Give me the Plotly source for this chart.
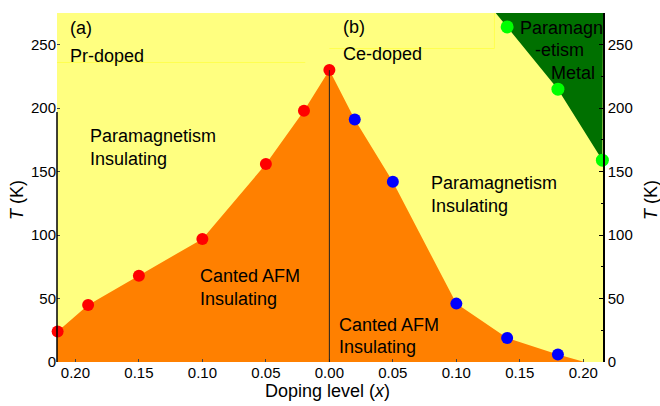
import plotly.graph_objects as go

# ---- data ----
pr_x = [0.214, 0.19, 0.15, 0.10, 0.05, 0.02, 0.00]
pr_T = [24, 45, 68, 97, 156, 198, 230]
ce_x = [0.02, 0.05, 0.10, 0.14, 0.18]
ce_T = [191, 142, 46, 19, 6]
pm_x = [0.14, 0.18, 0.215]
pm_T = [264, 215, 159]
# boundaries of the shaded regions
afm_end_x = 0.201
metal_top_x = 0.131
x_ticks = [-0.20, -0.15, -0.10, -0.05, 0.0, 0.05, 0.10, 0.15, 0.20]
x_ticktext = ["0.20", "0.15", "0.10", "0.05", "0.00", "0.05", "0.10", "0.15", "0.20"]
y_ticks = [0, 50, 100, 150, 200, 250]

XMIN, XMAX = -0.2145, 0.2155
YMAX = 275

YELLOW = "#FFFF80"
ORANGE = "#FF8000"
DGREEN = "#007000"
FAINT = "#FFFF50"
FONT = "Liberation Sans, Arial, sans-serif"

pr_xs = [-v for v in pr_x]

fig = go.Figure()

# Canted AFM region (orange)
afm_x = [XMIN, XMIN] + pr_xs + ce_x + [afm_end_x, XMIN]
afm_y = [0, pr_T[0]] + pr_T + ce_T + [0, 0]
fig.add_trace(go.Scatter(x=afm_x, y=afm_y, fill="toself", fillcolor=ORANGE,
                         mode="lines", line=dict(width=0, color=ORANGE),
                         hoverinfo="skip", showlegend=False))

# Paramagnetic metal region (dark green)
met_x = [metal_top_x] + pm_x + [XMAX, metal_top_x]
met_y = [YMAX] + pm_T + [YMAX, YMAX]
fig.add_trace(go.Scatter(x=met_x, y=met_y, fill="toself", fillcolor=DGREEN,
                         mode="lines", line=dict(width=0, color=DGREEN),
                         hoverinfo="skip", showlegend=False))

# points
fig.add_trace(go.Scatter(x=pr_xs, y=pr_T, mode="markers", cliponaxis=False,
                         marker=dict(color="#FF0000", size=12), showlegend=False))
fig.add_trace(go.Scatter(x=ce_x, y=ce_T, mode="markers", cliponaxis=False,
                         marker=dict(color="#0000FF", size=12), showlegend=False))
fig.add_trace(go.Scatter(x=pm_x, y=pm_T, mode="markers", cliponaxis=False,
                         marker=dict(color="#00FF00", size=13), showlegend=False,
                         yaxis="y2"))

# vertical separator at x=0
fig.add_shape(type="line", x0=0, x1=0, y0=0, y1=pr_T[-1], xref="x", yref="y",
              line=dict(color="#202020", width=1), layer="above")
# left frame line (partial, as in original)
fig.add_shape(type="line", x0=0, x1=0, y0=0, y1=197, xref="paper", yref="y",
              line=dict(color="black", width=1.5), layer="above")
# faint text-box edges
fig.add_shape(type="line", x0=XMIN, x1=-0.019, y0=236, y1=236, xref="x", yref="y",
              line=dict(color=FAINT, width=1), layer="below")
fig.add_shape(type="line", x0=0.0, x1=0.130, y0=247, y1=247, xref="x", yref="y",
              line=dict(color=FAINT, width=1), layer="below")
fig.add_shape(type="line", x0=0.130, x1=0.130, y0=247, y1=YMAX, xref="x", yref="y",
              line=dict(color=FAINT, width=1), layer="below")


def ann(x, y, text, xanchor="left", size=18):
    fig.add_annotation(x=x, y=y, xref="x", yref="y", text=text, showarrow=False,
                       xanchor=xanchor, yanchor="middle", align="left",
                       font=dict(family=FONT, size=size, color="black"))


ann(-0.2058, 263, "(a)")
ann(-0.2058, 241, "Pr-doped")
ann(-0.1901, 178, "Paramagnetism")
ann(-0.1901, 160, "Insulating")
ann(-0.1035, 68, "Canted AFM")
ann(-0.1035, 50, "Insulating")
ann(0.0091, 264, "(b)")
ann(0.0091, 243, "Ce-doped")
ann(0.0784, 141, "Paramagnetism")
ann(0.0784, 123, "Insulating")
ann(0.0060, 29, "Canted AFM")
ann(0.0060, 12, "Insulating")
ann(0.1831, 263, "Paramagn", xanchor="center")
ann(0.1816, 246, "-etism", xanchor="center")
ann(0.1918, 228, "Metal", xanchor="center")

# axis titles
title_font = dict(family=FONT, size=18, color="black")
fig.add_annotation(x=(17 - 57) / 546, y=(362 - 200) / 349, xref="paper", yref="paper",
                   text="<i>T</i> (K)", textangle=-90, showarrow=False,
                   xanchor="center", yanchor="middle", font=title_font)
fig.add_annotation(x=(651 - 57) / 546, y=(362 - 200) / 349, xref="paper", yref="paper",
                   text="<i>T</i> (K)", textangle=-90, showarrow=False,
                   xanchor="center", yanchor="middle", font=title_font)
fig.add_annotation(x=(327 - 57) / 546, y=-(391 - 362) / 349, xref="paper", yref="paper",
                   text="Doping level (<i>x</i>)", showarrow=False,
                   xanchor="center", yanchor="middle", font=title_font)

axis_font = dict(family=FONT, size=15, color="black")
fig.update_layout(
    width=660, height=406,
    margin=dict(l=57, r=57, t=13, b=44),
    paper_bgcolor="white", plot_bgcolor=YELLOW,
    font=dict(family=FONT, color="black"),
    xaxis=dict(range=[XMIN, XMAX], tickvals=x_ticks, ticktext=x_ticktext,
               showgrid=False, zeroline=False, showline=False, automargin=False,
               ticks="inside", ticklen=3, tickcolor="#444",
               tickfont=axis_font),
    yaxis=dict(range=[0, YMAX], tickvals=y_ticks, showgrid=False, zeroline=False,
               showline=False, automargin=False, ticks="inside", ticklen=3,
               tickcolor="#444", tickfont=axis_font),
    yaxis2=dict(range=[0, YMAX], tickvals=y_ticks, overlaying="y", side="right",
                showgrid=False, zeroline=False, showline=True, linecolor="black",
                linewidth=1.5, automargin=False, ticks="inside", ticklen=4,
                tickcolor="black",
                minor=dict(ticks="inside", ticklen=2, dtick=25, tickcolor="black"),
                tickfont=axis_font),
)

fig.write_html("out.html")
